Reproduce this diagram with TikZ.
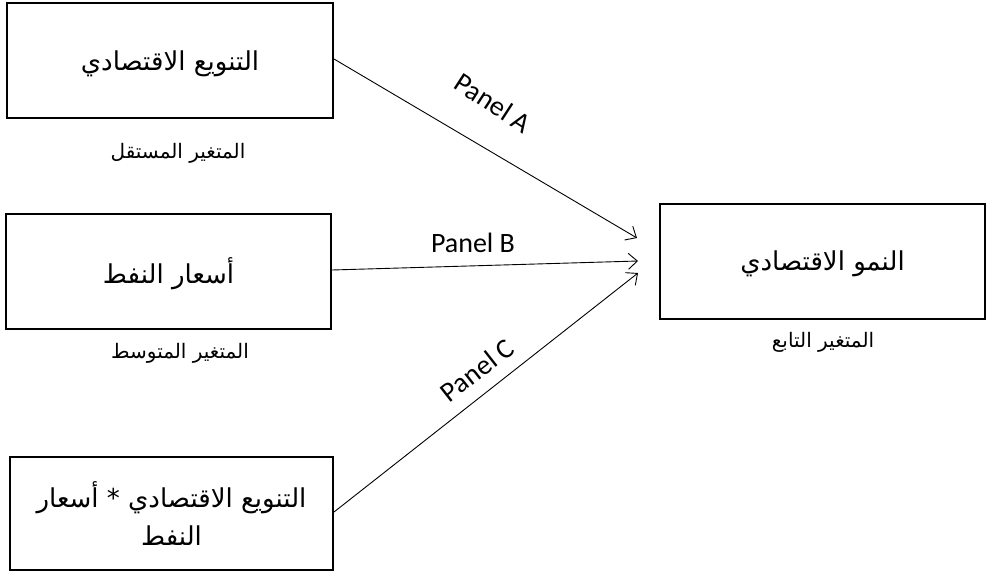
\documentclass[tikz,border=0pt]{standalone}
\usepackage{fontspec}
\setmainfont{Carlito}
\newfontfamily\arabicfont[Script=Arabic]{DejaVu Sans}
\TeXXeTstate=1
\usetikzlibrary{arrows.meta}
\begin{document}
\begin{tikzpicture}[x=1pt,y=-1pt,
  box/.style={draw,line width=2pt,inner sep=0pt},
  ar/.style={font=\arabicfont\fontsize{26}{38}\selectfont},
  lab/.style={font=\arabicfont\fontsize{20}{24}\selectfont},
  pan/.style={font=\fontsize{28}{32}\selectfont},
  conn/.style={line width=0.9pt,-{Straight Barb[length=9pt,width=16pt,line width=0.9pt]}}]
\useasboundingbox (0,0) rectangle (989,573);
\node[box,minimum width=326pt,minimum height=115pt] (b1) at (170,60) {};
\node[box,minimum width=325pt,minimum height=115pt] (b2) at (168.5,271.5) {};
\node[box,minimum width=323pt,minimum height=113pt] (b3) at (171.5,513.5) {};
\node[box,minimum width=325pt,minimum height=115pt] (b4) at (822.5,261.5) {};
\node[ar,yshift=-4pt] (t1) at (b1) {\beginR التنويع الاقتصادي\endR};
\node[ar,yshift=-2pt] (t2) at (b2) {\beginR أسعار النفط\endR};
\node[ar,align=center] (t3) at (b3) {\beginR التنويع الاقتصادي * أسعار\endR\\\beginR النفط\endR};
\node[ar,yshift=-2pt] (t4) at (b4) {\beginR النمو الاقتصادي\endR};
\node[lab] (l1) at (178,153) {\beginR المتغير المستقل\endR};
\node[lab] (l2) at (180,353) {\beginR المتغير المتوسط\endR};
\node[lab] (l4) at (823,342) {\beginR المتغير التابع\endR};
\coordinate (eA) at (637,238);
\coordinate (eB) at (638,261);
\coordinate (eC) at (638,273);
\draw[conn] (b1.east |- 0,59) -- (eA);
\draw[conn] (b2.east |- 0,270) -- (eB);
\draw[conn] (b3.east |- 0,512) -- (eC);
\node[pan,rotate=-33] (pA) at (493,103) {Panel A};
\node[pan] (pB) at (473,243) {Panel B};
\node[pan,rotate=38] (pC) at (477,370) {Panel C};
\end{tikzpicture}
\end{document}
